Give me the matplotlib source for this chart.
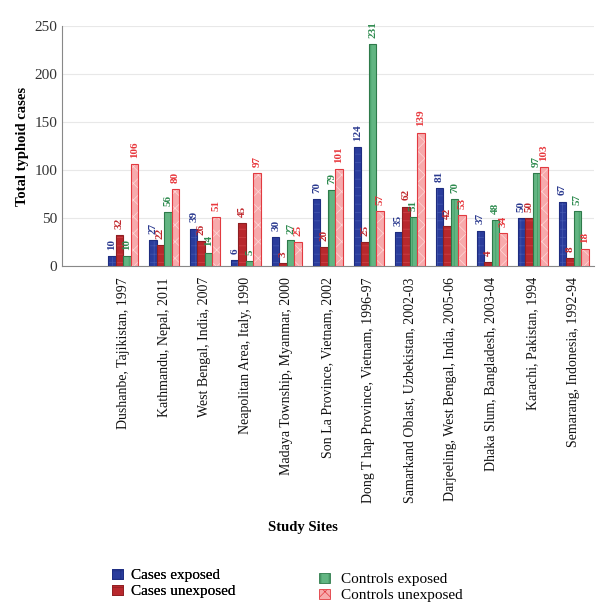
import matplotlib
matplotlib.use("Agg")
import matplotlib.pyplot as plt
import numpy as np
from matplotlib.patches import Patch

sites = ["Dushanbe, Tajikistan, 1997", "Kathmandu, Nepal, 2011", "West Bengal, India, 2007",
         "Neapolitan Area, Italy, 1990", "Madaya Township, Myanmar, 2000",
         "Son La Province, Vietnam, 2002", "Dong T hap Province, Vietnam, 1996-97",
         "Samarkand Oblast, Uzbekistan, 2002-03", "Darjeeling, West Bengal, India, 2005-06",
         "Dhaka Slum, Bangladesh, 2003-04", "Karachi, Pakistan, 1994",
         "Semarang, Indonesia, 1992-94"]
cases_exposed = [10, 27, 39, 6, 30, 70, 124, 35, 81, 37, 50, 67]
cases_unexposed = [32, 22, 26, 45, 3, 20, 25, 62, 42, 4, 50, 8]
controls_exposed = [10, 56, 14, 5, 27, 79, 231, 51, 70, 48, 97, 57]
controls_unexposed = [106, 80, 51, 97, 25, 101, 57, 139, 53, 34, 103, 18]
series_names = ["Cases exposed", "Cases unexposed", "Controls exposed", "Controls unexposed"]

serif = ["Liberation Serif", "DejaVu Serif"]
plt.rcParams['font.family'] = serif
plt.rcParams['hatch.linewidth'] = 0.5

fig = plt.figure(figsize=(6.05, 6.11), dpi=100)
ax = fig.add_axes([0.1025, 0.5646, 0.8795, 0.3928])

series = [cases_exposed, cases_unexposed, controls_exposed, controls_unexposed]
faces = ["#2A3C9C", "#B8282D", "#62B582", "#F7AAAC"]
hatch_cols = ["#4458B0", "#D0454A", "#3F9A62", "#FFD8D8"]
edges = ["#1E2D80", "#8E1F22", "#2E7A4A", "#E23A40"]
hatches = ["++", "--", "||", "xx"]
label_colors = ["#2B3A8F", "#C0282D", "#2E8B4F", "#E8383D"]

x = np.arange(len(sites))
w = 0.183
offsets = (np.arange(4) - 1.5) * w
for vals, f, hc, e, h, lc, off in zip(series, faces, hatch_cols, edges, hatches, label_colors, offsets):
    ax.bar(x + off, vals, w, color=f, edgecolor=hc, hatch=h, linewidth=0, zorder=3)
    bars = ax.bar(x + off, vals, w, fill=False, edgecolor=e, linewidth=0.8, zorder=3)
    for b, v in zip(bars, vals):
        ax.text(b.get_x() + b.get_width() / 2, v + 6.5, str(v), rotation=90, ha="center", va="bottom",
                fontsize=8, fontweight="bold", color=lc, zorder=4, clip_on=False)

ax.set_xlim(-1.49, 11.5)
ax.set_ylim(0, 250)
ax.set_yticks([0, 50, 100, 150, 200, 250])
ax.grid(axis="y", color="#e8e8e8", linewidth=0.8, zorder=0)
ax.set_axisbelow(True)
for s in ["top", "right"]:
    ax.spines[s].set_visible(False)
ax.spines["left"].set_color("#888888")
ax.spines["bottom"].set_color("#888888")
ax.tick_params(axis="y", labelsize=11, labelcolor="#333333", length=0)
ax.set_xticks(x)
ax.set_xticklabels(sites, rotation=90, fontsize=10, color="#111111")
ax.tick_params(axis="x", length=0, pad=8)
ax.set_ylabel("Total typhoid cases", fontsize=10.5, fontweight="bold", labelpad=4)
fig.text(0.5, 1 - 527 / 611, "Study Sites", ha="center", va="center", fontsize=10.5, fontweight="bold")

handles = [Patch(facecolor=f, edgecolor=e, hatch=h, linewidth=0.6) for f, e, h in zip(faces, edges, hatches)]
leg1 = fig.legend(handles[:2], series_names[:2], loc="upper left", bbox_to_anchor=(0.173, 1 - 561 / 611),
                  frameon=False, fontsize=11, handlelength=0.7, handleheight=0.7, labelspacing=0.15,
                  handletextpad=0.55, borderpad=0)
fig.legend(handles[2:], series_names[2:], loc="upper left", bbox_to_anchor=(0.515, 1 - 565 / 611),
           frameon=False, fontsize=11, handlelength=0.7, handleheight=0.7, labelspacing=0.15,
           handletextpad=0.75, borderpad=0)
fig.add_artist(leg1)

fig.savefig("out.png", dpi=100)
